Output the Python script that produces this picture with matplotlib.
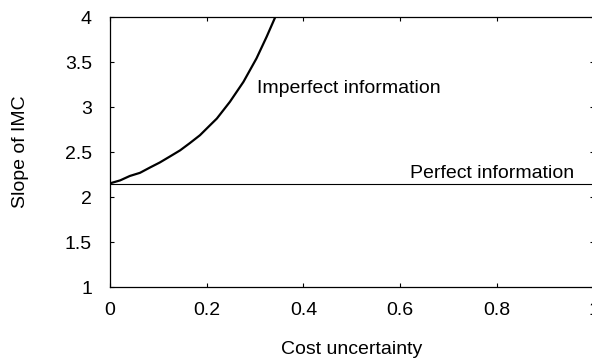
import numpy as np
import matplotlib
matplotlib.use("Agg")
import matplotlib.pyplot as plt

plt.rcParams['font.family'] = ['Liberation Sans', 'DejaVu Sans']

# curve
cost_unc = [0.0, 0.021, 0.041, 0.062, 0.083, 0.103, 0.124, 0.145, 0.165,
            0.186, 0.207, 0.221, 0.248, 0.276, 0.303, 0.324, 0.3416]
slope_imperfect = [2.153, 2.186, 2.235, 2.27, 2.33, 2.385, 2.452, 2.52, 2.6,
                   2.688, 2.8, 2.874, 3.06, 3.282, 3.543, 3.784, 4.0]
slope_perfect = 2.15

xticks = [0, 0.2, 0.4, 0.6, 0.8, 1]
xticklabels = ["0", "0.2", "0.4", "0.6", "0.8", "1"]
yticks = [1, 1.5, 2, 2.5, 3, 3.5, 4]
yticklabels = ["1", "1.5", "2", "2.5", "3", "3.5", "4"]

fig = plt.figure(figsize=(5.92, 3.62), dpi=100)
ax = fig.add_axes([110 / 592, 1 - 287 / 362, 483.5 / 592, 269.7 / 362])

ax.plot(cost_unc, slope_imperfect, color="black", lw=1.6)
ax.axhline(slope_perfect, color="black", lw=0.8)

ax.text(0.304, 3.21, "Imperfect information", fontsize=14, ha="left", va="center")
ax.text(0.621, 2.26, "Perfect information", fontsize=14, ha="left", va="center")

ax.set_xlim(0, 1)
ax.set_ylim(1, 4)
ax.set_xticks(xticks)
ax.set_xticklabels(xticklabels)
ax.set_yticks(yticks)
ax.set_yticklabels(yticklabels)
ax.tick_params(direction="in", length=3, width=0.8, labelsize=14,
               top=True, right=True, colors="black")
ax.tick_params(axis="x", pad=11)
ax.tick_params(axis="y", pad=13)

for s in ax.spines.values():
    s.set_linewidth(0.9)

ax.set_xlabel("Cost uncertainty", fontsize=14, va="center")
ax.xaxis.set_label_coords(0.5, -(350 - 287) / 269.7)
ax.set_ylabel("Slope of IMC", fontsize=14, va="center")
ax.yaxis.set_label_coords(-(110 - 21) / 483.5, 0.5)

fig.savefig("out.png", dpi=100)
